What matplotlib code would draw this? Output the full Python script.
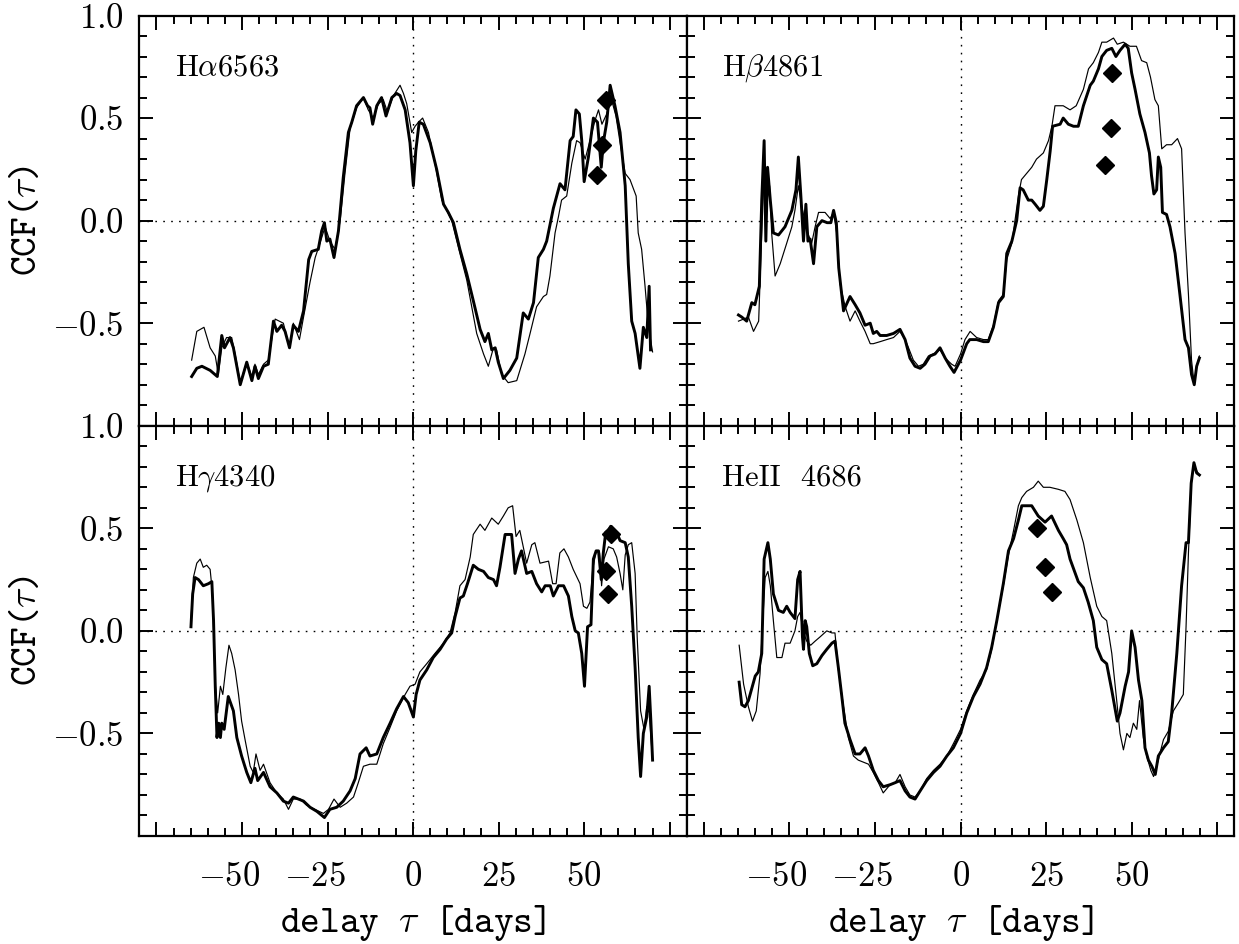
import matplotlib
matplotlib.use("Agg")
import matplotlib.pyplot as plt
import matplotlib.transforms as mtransforms
import numpy as np
from matplotlib.ticker import MultipleLocator, FuncFormatter

plt.rcParams["mathtext.fontset"] = "cm"
plt.rcParams["font.family"] = "cmr10"
plt.rcParams["axes.unicode_minus"] = False

# ── data: (delay tau [days], CCF) ─────────────────────────────────────────────
HA_THICK = [(-64.7,-0.76),(-63.2,-0.72),(-61.7,-0.71),(-59.3,-0.73),(-57.9,-0.75),(-57.2,-0.76),
            (-55.9,-0.56),(-55.1,-0.62),(-53.5,-0.57),(-52.5,-0.62),(-50.5,-0.80),(-48.6,-0.69),
            (-47.1,-0.78),(-46.2,-0.71),(-45.2,-0.77),(-43.7,-0.71),(-42.3,-0.70),(-40.8,-0.49),
            (-39.8,-0.54),(-38.4,-0.51),(-37.4,-0.54),(-36.1,-0.62),(-35.0,-0.51),(-33.5,-0.54),
            (-32.0,-0.44),(-30.5,-0.19),(-29.6,-0.15),(-27.7,-0.14),(-26.7,-0.05),(-25.9,-0.01),
            (-25.2,-0.10),(-24.3,-0.09),(-23.1,-0.18),(-21.8,-0.05),(-20.4,0.21),(-18.9,0.43),
            (-17.9,0.48),(-16.5,0.56),(-14.5,0.60),(-13.3,0.56),(-12.6,0.55),(-11.8,0.47),
            (-10.6,0.56),(-9.2,0.60),(-7.9,0.51),(-6.2,0.60),(-4.8,0.62),(-3.8,0.61),(-2.3,0.54),
            (-0.9,0.38),(0.1,0.17),(0.8,0.34),(1.8,0.48),(3.0,0.47),(5.0,0.38),(6.9,0.25),
            (8.9,0.08),(10.3,0.04),(11.8,-0.01),(13.7,-0.14),(15.7,-0.26),(17.6,-0.39),
            (19.6,-0.53),(21.0,-0.59),(22.0,-0.55),(23.0,-0.63),(24.0,-0.62),(24.9,-0.69),
            (26.4,-0.77),(28.3,-0.73),(30.3,-0.67),(32.2,-0.45),(33.7,-0.48),(35.2,-0.40),
            (36.6,-0.18),(38.1,-0.14),(39.05,-0.10),(41.0,0.06),(42.95,0.18),(44.4,0.15),
            (45.9,0.39),(46.8,0.41),(47.6,0.54),(48.6,0.52),(49.3,0.39),(50.0,0.19),(51.25,0.31),
            (52.7,0.50),(53.9,0.48),(55.0,0.26),(55.6,0.38),(56.6,0.48),(57.6,0.66),(59.0,0.56),
            (60.5,0.43),(62.0,0.17),(62.9,-0.21),(63.9,-0.49),(64.9,-0.55),(66.3,-0.72),
            (67.3,-0.52),(68.3,-0.57),(69.0,-0.32),(69.4,-0.63)]
HA_THIN = [(-64.7,-0.68),(-63.2,-0.54),(-61.1,-0.52),(-59.3,-0.62),(-57.8,-0.66),(-56.9,-0.75),
           (-55.9,-0.62),(-54.5,-0.57),(-53.0,-0.57),(-52.0,-0.65),(-50.5,-0.79),(-48.6,-0.69),
           (-47.1,-0.76),(-46.2,-0.70),(-45.2,-0.75),(-43.7,-0.70),(-42.3,-0.68),(-40.3,-0.48),
           (-37.9,-0.50),(-36.1,-0.62),(-35.0,-0.50),(-33.2,-0.58),(-32.0,-0.47),(-30.1,-0.30),
           (-28.6,-0.18),(-27.2,-0.11),(-25.7,-0.03),(-24.3,-0.10),(-22.8,-0.14),(-21.3,0.00),
           (-19.9,0.23),(-18.4,0.45),(-16.5,0.55),(-14.5,0.60),(-13.1,0.54),(-11.6,0.50),
           (-10.1,0.57),(-8.7,0.59),(-7.5,0.53),(-5.7,0.61),(-3.8,0.66),(-2.8,0.62),(-1.85,0.57),
           (-0.4,0.43),(0.6,0.46),(1.6,0.48),(2.8,0.50),(4.5,0.43),(6.4,0.28),(8.4,0.10),
           (11.3,0.00),(13.7,-0.16),(15.7,-0.29),(18.6,-0.55),(20.6,-0.65),(22.0,-0.71),
           (23.5,-0.62),(24.4,-0.63),(25.9,-0.75),(27.8,-0.79),(30.3,-0.78),(32.7,-0.65),
           (34.2,-0.55),(36.1,-0.42),(38.1,-0.37),(39.05,-0.36),(40.0,-0.27),(41.5,-0.06),
           (42.5,0.02),(43.4,0.10),(44.9,0.12),(46.4,0.28),(47.8,0.39),(48.8,0.38),(50.3,0.30),
           (51.7,0.39),(53.2,0.49),(54.2,0.54),(55.2,0.47),(56.6,0.52),(58.0,0.59),(59.3,0.51),
           (60.5,0.38),(62.0,0.23),(63.4,0.20),(65.2,0.12),(65.8,-0.06),(66.8,-0.14),
           (67.8,-0.32),(68.8,-0.52),(70.0,-0.64)]
HA_DIAMONDS = [(53.9,0.22),(55.3,0.37),(56.4,0.59)]

HB_THICK = [(-64.9,-0.46),(-63.95,-0.47),(-62.5,-0.49),(-61.0,-0.40),(-60.1,-0.41),(-58.8,-0.32),
            (-58.1,0.10),(-57.4,0.39),(-56.9,-0.10),(-56.4,0.26),(-55.6,0.10),(-54.7,-0.06),
            (-53.2,-0.07),(-51.3,-0.03),(-49.3,0.05),(-48.1,0.15),(-47.4,0.31),(-46.7,0.13),
            (-45.9,-0.10),(-45.2,0.08),(-44.6,-0.10),(-43.95,-0.09),(-42.96,-0.21),(-42.0,-0.03),
            (-40.5,0.00),(-39.0,-0.01),(-37.9,-0.01),(-37.1,0.05),(-36.3,-0.01),(-35.6,-0.23),
            (-34.2,-0.44),(-32.3,-0.37),(-30.8,-0.41),(-29.4,-0.45),(-27.9,-0.51),(-26.4,-0.50),
            (-25.5,-0.55),(-24.5,-0.54),(-23.5,-0.56),(-21.6,-0.56),(-19.6,-0.55),(-17.7,-0.53),
            (-16.2,-0.58),(-14.8,-0.67),(-13.3,-0.71),(-11.8,-0.72),(-10.4,-0.70),(-8.9,-0.66),
            (-7.45,-0.65),(-6.0,-0.62),(-4.5,-0.67),(-3.1,-0.71),(-1.9,-0.74),(0.0,-0.68),
            (1.8,-0.60),(2.7,-0.58),(4.7,-0.58),(6.7,-0.59),(8.1,-0.59),(9.6,-0.52),(11.1,-0.40),
            (12.5,-0.37),(13.5,-0.16),(15.0,-0.10),(16.4,0.00),(17.4,0.16),(18.3,0.15),
            (19.8,0.10),(20.8,0.10),(21.8,0.08),(23.2,0.05),(24.2,0.07),(25.2,0.20),(26.2,0.34),
            (26.9,0.46),(29.1,0.47),(30.0,0.50),(31.5,0.47),(33.0,0.46),(34.4,0.46),(35.9,0.56),
            (37.9,0.66),(38.8,0.68),(40.3,0.74),(41.3,0.80),(42.7,0.83),(44.2,0.84),(45.4,0.80),
            (46.6,0.83),(48.1,0.86),(49.0,0.84),(50.0,0.72),(51.0,0.64),(52.4,0.52),(53.9,0.43),
            (55.2,0.33),(55.8,0.22),(56.5,0.13),(57.3,0.15),(57.8,0.31),(58.5,0.26),(59.0,0.04),
            (60.2,0.03),(61.2,-0.03),(62.7,-0.16),(64.1,-0.36),(65.6,-0.58),(66.6,-0.62),
            (67.5,-0.75),(68.3,-0.80),(69.0,-0.71),(69.8,-0.67)]
HB_THIN = [(-64.9,-0.49),(-63.4,-0.48),(-62.0,-0.47),(-60.5,-0.54),(-59.0,-0.49),(-58.1,-0.06),
           (-57.4,0.23),(-56.6,0.10),(-55.8,0.17),(-55.2,-0.06),(-54.2,-0.27),(-52.7,-0.21),
           (-50.8,-0.11),(-49.3,-0.03),(-48.4,0.05),(-47.4,0.17),(-46.4,0.07),(-44.9,-0.05),
           (-43.5,-0.11),(-42.5,-0.03),(-41.5,0.04),(-39.6,0.04),(-38.1,0.01),(-37.1,0.04),
           (-36.2,-0.06),(-35.2,-0.31),(-33.7,-0.42),(-32.3,-0.49),(-30.8,-0.44),(-29.4,-0.49),
           (-27.9,-0.54),(-26.4,-0.60),(-25.5,-0.60),(-23.5,-0.59),(-21.6,-0.58),(-19.6,-0.57),
           (-17.7,-0.54),(-16.2,-0.58),(-15.2,-0.62),(-13.8,-0.68),(-12.3,-0.71),(-10.9,-0.70),
           (-9.4,-0.66),(-8.0,-0.65),(-6.0,-0.63),(-4.5,-0.67),(-2.6,-0.70),(-1.6,-0.71),
           (0.0,-0.65),(1.3,-0.58),(2.8,-0.54),(4.7,-0.57),(6.7,-0.58),(8.1,-0.58),(9.6,-0.51),
           (11.1,-0.39),(12.5,-0.36),(13.5,-0.19),(15.0,-0.11),(15.9,0.00),(16.9,0.12),
           (17.8,0.20),(19.3,0.23),(20.8,0.26),(22.2,0.30),(24.2,0.33),(25.7,0.39),(26.7,0.46),
           (27.6,0.56),(29.1,0.56),(30.0,0.56),(32.0,0.54),(33.8,0.56),(35.9,0.64),(37.4,0.74),
           (38.8,0.77),(40.3,0.82),(41.3,0.87),(42.7,0.87),(44.7,0.89),(45.8,0.86),(47.6,0.87),
           (49.5,0.85),(51.4,0.85),(52.9,0.78),(54.4,0.77),(55.5,0.70),(56.8,0.59),(57.8,0.56),
           (58.8,0.35),(60.2,0.37),(61.7,0.37),(63.4,0.40),(64.6,0.35),(65.6,-0.06),
           (66.6,-0.36),(67.5,-0.68),(68.3,-0.80),(69.0,-0.71),(69.8,-0.66)]
HB_DIAMONDS = [(42.2,0.27),(44.0,0.45),(44.4,0.72)]

HG_THICK = [(-64.9,0.02),(-64.4,0.18),(-63.7,0.26),(-62.7,0.25),(-61.3,0.22),(-59.8,0.23),
            (-58.8,0.24),(-58.3,0.05),(-57.8,-0.27),(-57.3,-0.52),(-56.8,-0.45),(-56.3,-0.52),
            (-55.9,-0.45),(-55.2,-0.48),(-54.0,-0.32),(-52.5,-0.39),(-51.5,-0.52),(-50.1,-0.61),
            (-48.6,-0.69),(-47.4,-0.74),(-46.2,-0.67),(-45.4,-0.73),(-43.7,-0.69),(-41.8,-0.76),
            (-39.8,-0.79),(-37.9,-0.83),(-36.4,-0.84),(-35.0,-0.81),(-33.5,-0.82),(-32.0,-0.83),
            (-30.1,-0.86),(-28.1,-0.88),(-25.9,-0.91),(-24.3,-0.87),(-22.3,-0.86),(-20.4,-0.83),
            (-18.4,-0.78),(-16.9,-0.72),(-15.5,-0.60),(-13.7,-0.57),(-12.6,-0.61),(-10.6,-0.60),
            (-8.7,-0.52),(-6.7,-0.45),(-4.8,-0.38),(-2.8,-0.32),(-1.4,-0.35),(0.1,-0.42),
            (0.9,-0.31),(2.0,-0.24),(4.0,-0.19),(5.9,-0.13),(7.9,-0.09),(9.8,-0.04),(11.3,-0.01),
            (12.3,0.07),(13.7,0.16),(14.7,0.17),(15.9,0.23),(17.6,0.32),(19.1,0.30),(20.6,0.29),
            (22.0,0.26),(23.5,0.25),(24.4,0.22),(25.4,0.31),(26.9,0.47),(28.8,0.47),(29.8,0.28),
            (30.8,0.35),(31.7,0.39),(33.2,0.28),(34.7,0.29),(36.1,0.23),(37.6,0.19),(38.6,0.22),
            (40.1,0.22),(41.0,0.17),(42.5,0.22),(44.0,0.22),(45.4,0.17),(46.4,0.07),(47.4,0.00),
            (48.3,-0.01),(49.3,-0.11),(50.1,-0.27),(51.0,0.02),(52.0,0.03),(52.7,0.35),
            (53.5,0.39),(54.2,0.39),(55.0,0.25),(55.6,0.38),(56.3,0.48),(57.1,0.49),(57.75,0.51),
            (58.7,0.45),(59.5,0.48),(60.5,0.44),(62.0,0.43),(62.9,0.36),(63.9,0.12),(64.9,-0.18),
            (65.8,-0.52),(66.5,-0.71),(67.3,-0.50),(68.3,-0.42),(69.0,-0.27),(69.5,-0.44),
            (70.0,-0.63)]
HG_THIN = [(-64.9,0.05),(-64.2,0.26),(-63.2,0.33),(-62.2,0.35),(-61.3,0.31),(-60.3,0.32),
           (-59.3,0.30),(-58.6,0.18),(-57.8,-0.26),(-57.1,-0.40),(-56.3,-0.27),(-55.6,-0.31),
           (-54.7,-0.18),(-53.8,-0.07),(-53.0,-0.11),(-52.0,-0.19),(-51.0,-0.31),(-50.1,-0.44),
           (-49.1,-0.53),(-47.6,-0.66),(-46.7,-0.69),(-45.9,-0.60),(-44.7,-0.68),(-43.7,-0.65),
           (-41.8,-0.74),(-39.8,-0.79),(-37.9,-0.82),(-36.4,-0.87),(-35.0,-0.82),(-33.0,-0.82),
           (-31.1,-0.85),(-28.7,-0.87),(-26.2,-0.89),(-24.7,-0.87),(-23.1,-0.82),(-21.3,-0.86),
           (-19.4,-0.84),(-17.4,-0.81),(-16.0,-0.74),(-14.5,-0.66),(-12.6,-0.65),(-10.6,-0.65),
           (-8.7,-0.55),(-6.7,-0.47),(-4.8,-0.39),(-2.3,-0.31),(-0.9,-0.27),(0.6,-0.26),
           (2.0,-0.20),(4.0,-0.16),(6.4,-0.11),(8.9,-0.06),(10.8,-0.01),(12.3,0.09),(13.7,0.22),
           (15.2,0.25),(16.7,0.36),(17.6,0.47),(19.6,0.52),(21.0,0.49),(23.0,0.55),(24.9,0.52),
           (26.4,0.56),(27.8,0.60),(29.1,0.61),(30.1,0.46),(31.2,0.49),(33.2,0.33),(34.7,0.42),
           (35.6,0.43),(37.1,0.33),(39.6,0.34),(40.8,0.23),(41.8,0.23),(42.9,0.38),(44.1,0.40),
           (45.4,0.36),(46.8,0.30),(48.8,0.23),(49.8,0.12),(50.8,0.11),(51.7,0.14),(52.5,0.30),
           (53.5,0.39),(54.5,0.38),(55.1,0.22),(55.8,0.35),(57.1,0.41),(58.5,0.40),(59.5,0.36),
           (60.5,0.28),(61.3,0.20),(62.0,0.37),(62.9,0.42),(63.9,0.43),(64.9,0.28),(65.5,-0.03),
           (66.5,-0.39),(67.5,-0.48),(68.3,-0.37),(69.0,-0.40),(70.0,-0.63)]
HG_DIAMONDS = [(56.3,0.29),(56.9,0.18),(57.85,0.47)]

HE2_THICK = [(-64.7,-0.25),(-63.95,-0.36),(-63.0,-0.37),(-62.0,-0.34),(-61.0,-0.28),(-60.0,-0.22),
             (-59.1,-0.20),(-58.1,-0.11),(-57.4,0.35),(-56.3,0.43),(-55.6,0.35),(-54.7,0.18),
             (-53.2,0.10),(-51.8,0.09),(-50.8,0.12),(-49.8,0.09),(-48.4,0.06),(-47.6,0.25),
             (-46.9,0.29),(-46.2,-0.03),(-45.9,-0.09),(-45.4,0.05),(-44.95,0.02),(-44.2,-0.11),
             (-43.2,-0.17),(-42.0,-0.16),(-40.5,-0.12),(-39.1,-0.09),(-37.6,-0.06),(-36.7,-0.05),
             (-35.7,-0.18),(-34.7,-0.32),(-33.8,-0.45),(-32.3,-0.53),(-30.8,-0.60),(-29.4,-0.60),
             (-27.9,-0.57),(-26.9,-0.61),(-25.5,-0.68),(-24.0,-0.73),(-22.6,-0.76),(-20.6,-0.75),
             (-19.1,-0.74),(-17.7,-0.73),(-16.2,-0.78),(-14.8,-0.81),(-13.3,-0.82),(-11.8,-0.78),
             (-9.9,-0.73),(-7.9,-0.69),(-6.0,-0.66),(-4.0,-0.61),(-2.1,-0.57),(0.0,-0.50),
             (1.8,-0.40),(3.75,-0.32),(5.7,-0.26),(7.6,-0.18),(9.1,-0.08),(10.6,0.05),(12.5,0.23),
             (14.0,0.39),(15.5,0.45),(16.9,0.54),(17.9,0.61),(19.3,0.61),(20.8,0.61),(22.7,0.56),
             (24.7,0.53),(26.6,0.56),(28.6,0.49),(30.0,0.45),(31.0,0.42),(32.0,0.35),(34.4,0.24),
             (35.9,0.21),(37.3,0.14),(38.8,0.05),(39.8,-0.08),(41.3,-0.14),(42.7,-0.16),
             (44.2,-0.29),(45.8,-0.44),(46.6,-0.40),(48.1,-0.27),(49.1,-0.20),(50.0,0.00),
             (51.0,-0.08),(52.0,-0.24),(53.0,-0.34),(53.9,-0.57),(54.9,-0.63),(55.9,-0.66),
             (56.9,-0.70),(57.8,-0.61),(59.3,-0.57),(60.7,-0.54),(61.7,-0.40),(63.2,-0.11),
             (64.6,0.22),(65.9,0.43),(66.6,0.43),(67.4,0.72),(68.2,0.82),(69.0,0.77),(69.8,0.76)]
HE2_THIN = [(-64.7,-0.07),(-63.4,-0.26),(-62.0,-0.37),(-60.8,-0.44),(-59.7,-0.39),(-58.6,-0.21),
            (-57.8,0.05),(-57.1,0.26),(-56.3,0.29),(-55.6,0.22),(-54.7,0.05),(-53.7,-0.13),
            (-52.2,-0.13),(-51.3,-0.06),(-49.8,-0.06),(-48.4,0.00),(-47.6,0.07),(-46.9,0.09),
            (-45.9,-0.01),(-44.95,-0.05),(-43.8,-0.07),(-42.5,-0.05),(-41.1,-0.03),(-39.1,0.00),
            (-37.6,-0.01),(-36.7,-0.01),(-35.7,-0.19),(-34.2,-0.37),(-32.8,-0.52),(-31.3,-0.61),
            (-29.9,-0.63),(-28.4,-0.64),(-26.9,-0.65),(-25.5,-0.69),(-24.0,-0.74),(-22.6,-0.79),
            (-20.6,-0.75),(-19.1,-0.74),(-17.7,-0.70),(-16.2,-0.76),(-14.8,-0.80),(-13.3,-0.81),
            (-11.8,-0.78),(-9.9,-0.72),(-7.9,-0.68),(-6.0,-0.65),(-4.0,-0.61),(-2.1,-0.55),
            (0.0,-0.48),(1.8,-0.39),(3.75,-0.31),(5.7,-0.24),(7.6,-0.19),(9.1,-0.09),(10.6,0.05),
            (12.5,0.22),(14.0,0.37),(15.5,0.49),(16.9,0.61),(17.9,0.65),(19.3,0.68),(21.3,0.70),
            (22.7,0.73),(24.2,0.70),(26.1,0.70),(28.6,0.69),(30.5,0.68),(32.0,0.64),(34.0,0.54),
            (35.9,0.43),(37.9,0.26),(39.8,0.12),(41.3,0.07),(42.7,0.05),(44.2,-0.11),(45.7,-0.35),
            (46.6,-0.50),(47.6,-0.58),(48.6,-0.50),(49.5,-0.52),(50.5,-0.45),(51.5,-0.48),
            (52.3,-0.34),(53.4,-0.52),(54.4,-0.61),(55.6,-0.68),(56.4,-0.71),(57.3,-0.66),
            (59.3,-0.53),(60.7,-0.49),(62.2,-0.39),(63.7,-0.35),(65.1,-0.31),(65.9,0.02),
            (66.6,0.38),(67.5,0.73),(68.2,0.81),(69.0,0.78),(69.8,0.76)]
HE2_DIAMONDS = [(22.3,0.50),(24.7,0.31),(26.6,0.19)]

PANEL_LABELS = [r"H$\alpha$6563", r"H$\beta$4861", r"H$\gamma$4340", "HeII  4686"]
THICK = [HA_THICK, HB_THICK, HG_THICK, HE2_THICK]
THIN = [HA_THIN, HB_THIN, HG_THIN, HE2_THIN]
DIAMONDS = [HA_DIAMONDS, HB_DIAMONDS, HG_DIAMONDS, HE2_DIAMONDS]


def fmt_x(v, _pos):
    if abs(v) > 60:
        return ""
    return r"$%d$" % int(round(v))


def fmt_y(v, _pos):
    if v < -0.95:
        return ""
    if abs(v) < 1e-9:
        v = 0.0
    return r"$%.1f$" % v


fig, axes = plt.subplots(2, 2, figsize=(12.39, 9.44), dpi=100, sharex=True, sharey=True)
fig.patch.set_facecolor("white")
fig.subplots_adjust(left=139.3 / 1239, right=1234.3 / 1239, top=1 - 15.5 / 944,
                    bottom=1 - 836 / 944, wspace=0, hspace=0)

for i, ax in enumerate(axes.flat):
    row, col = divmod(i, 2)

    ax.axvline(0, color="black", lw=1.0, dashes=(1.2, 4.5), zorder=1)
    ax.axhline(0, color="black", lw=1.0, dashes=(1.2, 4.5), zorder=1)

    thin = np.array(THIN[i]).T
    thick = np.array(THICK[i]).T
    dia = np.array(DIAMONDS[i]).T
    ax.plot(thin[0], thin[1], color="black", lw=0.85, zorder=2)
    ax.plot(thick[0], thick[1], color="black", lw=2.1, zorder=3)
    ax.plot(dia[0], dia[1], ls="none", marker="D", ms=9.5, color="black", zorder=4)

    ax.text(0.065, 0.872, PANEL_LABELS[i], transform=ax.transAxes, fontsize=22,
            ha="left", va="center")

    ax.set_xlim(-80, 80)
    ax.set_ylim(-1, 1)
    ax.xaxis.set_major_locator(MultipleLocator(25))
    ax.xaxis.set_minor_locator(MultipleLocator(5))
    ax.yaxis.set_major_locator(MultipleLocator(0.5))
    ax.yaxis.set_minor_locator(MultipleLocator(0.1))
    ax.xaxis.set_major_formatter(FuncFormatter(fmt_x))
    ax.yaxis.set_major_formatter(FuncFormatter(fmt_y))

    ax.tick_params(which="both", direction="in", top=True, right=True, width=1.4)
    ax.tick_params(which="major", length=10)
    ax.tick_params(which="minor", length=5.5)
    ax.tick_params(axis="x", which="major", labelsize=25, pad=18,
                   labelbottom=(row == 1))
    ax.tick_params(axis="y", which="major", labelsize=25, pad=11,
                   labelleft=(col == 0))
    for sp in ax.spines.values():
        sp.set_linewidth(1.6)

    if col == 0:
        ax.set_ylabel(r"CCF($\tau$)", family="cmtt10", fontsize=27)
        ax.yaxis.set_label_coords(-0.172, 0.5)
    if row == 1:
        ax.set_xlabel(r"delay $\tau$ [days]", family="cmtt10", fontsize=27)
        ax.xaxis.set_label_coords(0.5, -0.163)

# negative delay labels: digits sit on the tick, the minus sign hangs to the left
fig.canvas.draw()
shift = mtransforms.ScaledTranslation(-0.13, 0, fig.dpi_scale_trans)
for ax in axes[1]:
    for tick in ax.xaxis.get_major_ticks():
        if tick.get_loc() < 0:
            tick.label1.set_transform(tick.label1.get_transform() + shift)

fig.savefig("out.png", dpi=100, facecolor="white")
